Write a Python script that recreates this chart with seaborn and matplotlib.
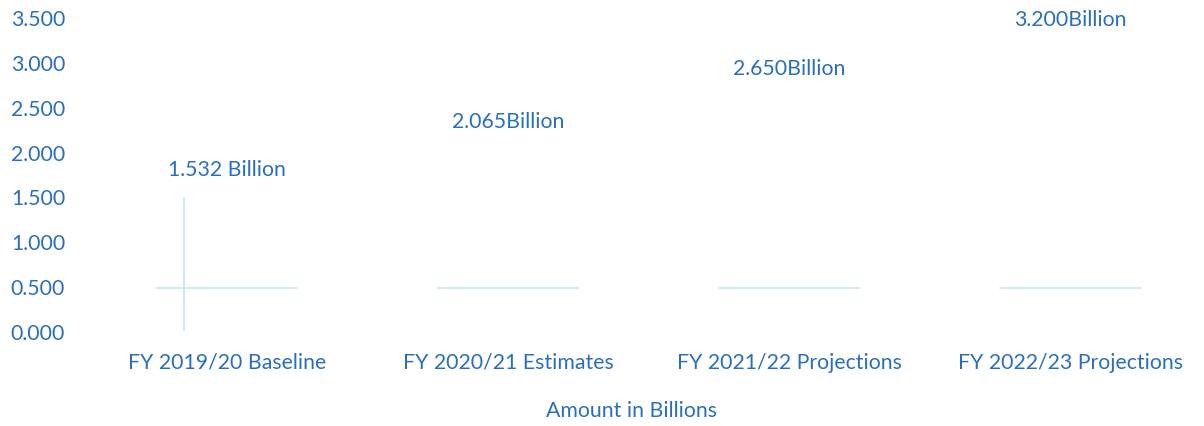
import matplotlib
matplotlib.use("Agg")
import matplotlib.pyplot as plt
import seaborn as sns
import pandas as pd

categories = ["FY 2019/20 Baseline", "FY 2020/21 Estimates",
              "FY 2021/22 Projections", "FY 2022/23 Projections"]
amounts = [1.532, 2.065, 2.650, 3.200]
value_labels = ["1.532 Billion", "2.065Billion", "2.650Billion", "3.200Billion"]
y_ticks = [0.0, 0.5, 1.0, 1.5, 2.0, 2.5, 3.0, 3.5]

blue = "#2a6fbd"
faint = "#c3e8f1"

sns.set_style("white")
plt.rcParams['font.family'] = ['Lato', 'DejaVu Sans']

df = pd.DataFrame({'category': categories, 'amount': amounts})

fig = plt.figure(figsize=(12.04, 4.27), dpi=100)
ax = fig.add_axes([86 / 1204, 95 / 427, (1197 - 86) / 1204, (409 - 95) / 427])

# bars in the scan are almost washed out
sns.barplot(data=df, x='category', y='amount', color='white', width=0.5,
            saturation=1, ax=ax)

for i, (p, lab) in enumerate(zip(ax.patches, value_labels)):
    p.set_edgecolor('none')
    cx = p.get_x() + p.get_width() / 2
    # faint scan remnants
    ax.plot([p.get_x(), p.get_x() + p.get_width()], [0.48, 0.48],
            color=faint, lw=1.2)
    if i == 0:
        ax.plot([p.get_x() + 0.2 * p.get_width()] * 2, [0, p.get_height() - 0.05],
                color=faint, lw=1.2)
    ax.annotate(lab, (cx, p.get_height()), xytext=(0, 18),
                textcoords='offset points', ha='center', va='center',
                color=blue, fontsize=15.3, annotation_clip=False)

ax.set_xlim(-0.5, 3.45)
ax.set_ylim(0, 3.5)
ax.set_yticks(y_ticks)
ax.set_yticklabels([f"{v:.3f}" for v in y_ticks])
ax.tick_params(axis='both', length=0, labelcolor=blue, labelsize=15.3)
ax.tick_params(axis='y', pad=15)
ax.tick_params(axis='x', pad=15)
ax.set_xlabel("Amount in Billions", color=blue, fontsize=15.3, va='center')
ax.xaxis.set_label_coords(0.491, -0.252)
ax.set_ylabel("")
sns.despine(ax=ax, left=True, bottom=True)

fig.savefig("out.png", dpi=100)
